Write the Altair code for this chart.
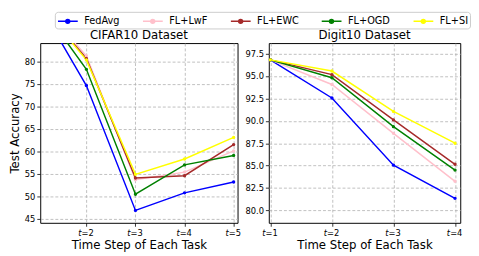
import altair as alt
import pandas as pd

methods = ["FedAvg", "FL+LwF", "FL+EWC", "FL+OGD", "FL+SI"]
colors = ["blue", "pink", "brown", "green", "yellow"]

cifar_steps = [1, 2, 3, 4, 5]
cifar_fedavg = [93.3, 74.6, 46.9, 50.8, 53.2]
cifar_lwf = [93.3, 81.2, 53.7, 55.4, 60.1]
cifar_ewc = [93.3, 80.6, 54.1, 54.6, 61.5]
cifar_ogd = [93.3, 78.2, 50.5, 57.0, 59.1]
cifar_si = [93.3, 80.3, 54.9, 58.3, 63.1]

digit_steps = [1, 2, 3, 4]
digit_fedavg = [96.8, 92.55, 85.05, 81.35]
digit_lwf = [96.8, 94.05, 88.6, 83.25]
digit_ewc = [96.8, 95.15, 90.1, 85.15]
digit_ogd = [96.8, 94.8, 89.35, 84.5]
digit_si = [96.8, 95.55, 91.05, 87.5]

cifar_ticks_x = [2, 3, 4, 5]
cifar_ticks_y = [45, 50, 55, 60, 65, 70, 75, 80]
digit_ticks_x = [1, 2, 3, 4]
digit_ticks_y = [80.0, 82.5, 85.0, 87.5, 90.0, 92.5, 95.0, 97.5]


def frame(steps, series):
    rows = []
    for m, vals in zip(methods, series):
        for s, v in zip(steps, vals):
            rows.append({"step": s, "acc": v, "method": m})
    return pd.DataFrame(rows)


cifar_df = frame(cifar_steps, [cifar_fedavg, cifar_lwf, cifar_ewc, cifar_ogd, cifar_si])
digit_df = frame(digit_steps, [digit_fedavg, digit_lwf, digit_ewc, digit_ogd, digit_si])

FONT = "DejaVu Sans"

legend = alt.Legend(
    title=None,
    orient="none",
    legendX=15,
    legendY=-32,
    direction="horizontal",
    columns=5,
    symbolType="M-1,0H2.2M0.9,0A0.32,0.32,0,1,1,0.26,0A0.32,0.32,0,1,1,0.9,0Z",
    symbolSize=160,
    symbolStrokeWidth=1.5,
    labelFontSize=10,
    labelFont=FONT,
    labelColor="black",
    labelOffset=13,
    columnPadding=20,
    strokeColor="#cccccc",
    cornerRadius=3,
    padding=2,
)

color = alt.Color(
    "method:N",
    scale=alt.Scale(domain=methods, range=colors),
    sort=methods,
    legend=legend,
)


def panel(df, title, xdom, xticks, ydom, yticks, yfmt, width, height, ytitle):
    xs = alt.Scale(domain=xdom, nice=False, zero=False)
    ys = alt.Scale(domain=ydom, nice=False, zero=False)

    def yaxis():
        return alt.Axis(values=yticks, format=yfmt, title=ytitle, titlePadding=3,
                        labelOverlap=False)

    base = alt.Chart(df)
    lines = base.mark_line(clip=True, strokeWidth=1.5).encode(
        x=alt.X(
            "step:Q",
            scale=xs,
            axis=alt.Axis(
                values=xticks,
                orient="bottom",
                labelExpr="'=' + datum.label",
                labelAlign="left",
                labelOffset=-5.5,
                labelOverlap=False,
                title="Time Step of Each Task",
                titlePadding=3,
            ),
        ),
        y=alt.Y("acc:Q", scale=ys, axis=yaxis()),
        color=color,
    )
    pts = base.mark_point(clip=True, filled=True, size=12, opacity=1).encode(
        x=alt.X(
            "step:Q",
            scale=xs,
            axis=alt.Axis(
                values=xticks,
                orient="bottom",
                labelExpr="'t'",
                labelAlign="right",
                labelOffset=-5.5,
                labelOverlap=False,
                labelFontStyle="italic",
                grid=False,
                ticks=True,
                tickOpacity=0,
                domain=False,
                title=None,
            ),
        ),
        y=alt.Y("acc:Q", scale=ys, axis=yaxis()),
        color=color,
    )
    return (
        alt.layer(lines, pts)
        .resolve_axis(x="independent")
        .properties(width=width, height=height, title=title)
    )


left = panel(cifar_df, "CIFAR10 Dataset", [1.06, 5.08], cifar_ticks_x, [44.15, 84.02],
             cifar_ticks_y, "d", 202, 184, "Test Accuracy")
right = panel(digit_df, "Digit10 Dataset", [0.975, 4.085], digit_ticks_x, [78.62, 98.67],
              digit_ticks_y, ".1f", 196, 184, None)

chart = (
    alt.hconcat(left, right, spacing=3)
    .configure_view(stroke="black", strokeWidth=1)
    .configure_axis(
        labelFont=FONT,
        labelFontSize=8.5,
        labelColor="black",
        labelOverlap=False,
        tickColor="black",
        tickSize=3.5,
        tickWidth=0.8,
        domain=False,
        gridColor="#b0b0b0",
        gridDash=[3, 2],
        gridWidth=0.8,
        titleFont=FONT,
        titleFontSize=12,
        titleFontWeight="normal",
        titleColor="black",
        labelPadding=2,
    )
    .configure_title(font=FONT, fontSize=12, fontWeight="normal", color="black", offset=1)
    .properties(padding=0)
)

chart.save("out.html", embed_options={"renderer": "svg", "actions": False})
